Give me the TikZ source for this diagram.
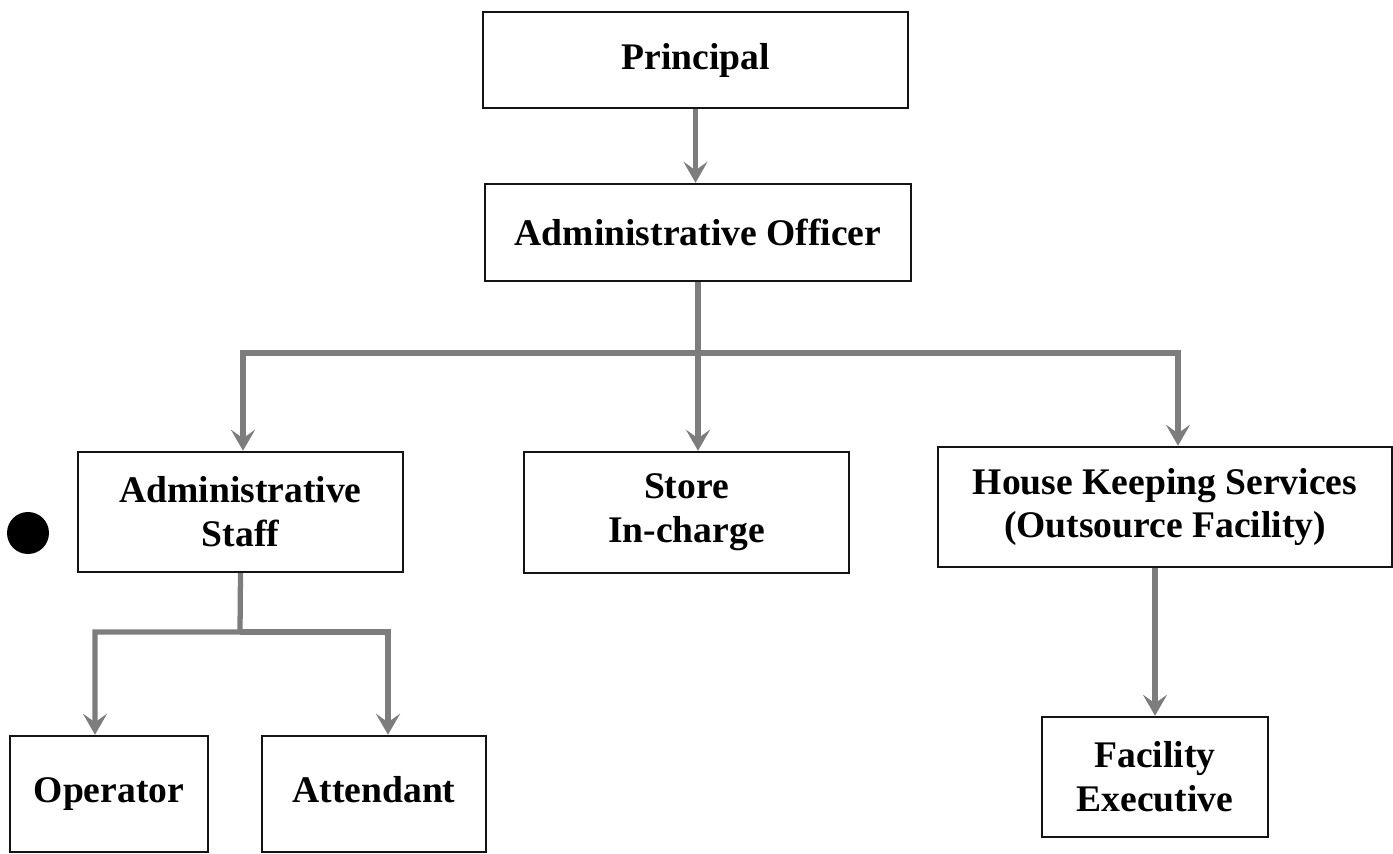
\documentclass[tikz,border=0pt]{standalone}
\usepackage{fontspec}
\setmainfont{Liberation Serif}
\usetikzlibrary{arrows.meta}
\definecolor{boxEdge}{RGB}{20,20,20}
\definecolor{linkGrey}{RGB}{125,125,125}

\begin{document}
\begin{tikzpicture}[
    x=0.02cm, y=0.02cm,
    box/.style={rectangle, draw=boxEdge, line width=1.4pt, fill=white, align=center, inner sep=0pt, font=\fontsize{21.4}{25}\selectfont\bfseries},
    link/.style={draw=linkGrey, line width=3pt},
    arrow/.style={link, -{Stealth[length=4.2mm, width=4.8mm, inset=1.7mm]}},
    dot/.style={circle, fill=black, inner sep=0pt, minimum size=0.84cm}
]
\useasboundingbox (0,0) rectangle (1393,853);

% Top: Principal and Administrative Officer
\node[box, minimum width=8.5cm, minimum height=1.92cm] (principal) at (695.5,793) {Principal};
\node[box, minimum width=8.52cm, minimum height=1.94cm] (ao) at (698,620.5) {Administrative Officer};

% Second row
\node[box, minimum width=6.5cm, minimum height=2.4cm] (staff) at (240.5,341) {Administrative\\Staff};
\node[box, minimum width=6.5cm, minimum height=2.42cm] (store) at (686.5,340.5) {Store\\In-charge};
\node[box, minimum width=9.08cm, minimum height=2.4cm] (hk) at (1165,346) {House Keeping Services\\(Outsource Facility)};
\node[dot] (bullet) at (28,320) {};

% Third row
\node[box, minimum width=3.96cm, minimum height=2.32cm] (op) at (109,59) {\strut Operator};
\node[box, minimum width=4.48cm, minimum height=2.32cm] (att) at (374,59) {\strut Attendant};
\node[box, minimum width=4.52cm, minimum height=2.4cm] (fe) at (1155,76) {Facility\\Executive};

% Bus points
\coordinate (bus1) at (698,500);
\coordinate (dropA) at (243,500);
\coordinate (dropC) at (1178,500);
\coordinate (bus2) at (240,221);
\coordinate (dropOp) at (95,221);
\coordinate (dropAt) at (388,221);

% Arrows
\draw[arrow] (principal.south) -- (principal.south |- ao.north);

\draw[arrow] (ao.south) -- (ao.south |- store.north);
\draw[arrow] (bus1) -- (dropA) -- (dropA |- staff.north);
\draw[arrow] (bus1) -- (dropC) -- (dropC |- hk.north);

% Administrative staff splits in two
\draw[arrow] (staff.south) -- (bus2) -- (dropOp) -- (dropOp |- op.north);
\draw[arrow] (bus2) -- (dropAt) -- (dropAt |- att.north);

\draw[arrow] (fe.north |- hk.south) -- (fe.north);

\end{tikzpicture}
\end{document}
